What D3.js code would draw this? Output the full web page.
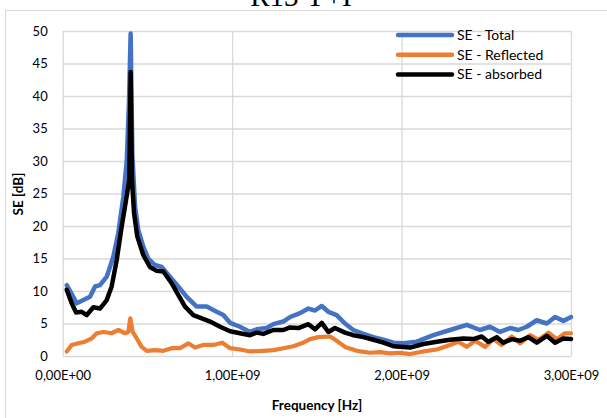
<!DOCTYPE html>
<html>
<head>
<meta charset="utf-8">
<script src="https://d3js.org/d3.v7.min.js"></script>
<style>
  body { margin: 0; background: #fff; }
  text { font-family: Lato, "Open Sans", sans-serif; fill: #000; }
</style>
</head>
<body>
<svg width="607" height="418"></svg>

<script>
// valori (frequenza in Hz, SE in dB)
var freqTotal = [0.024e9,0.083e9,0.122e9,0.161e9,0.191e9,0.220e9,0.260e9,0.299e9,0.328e9,0.358e9,0.378e9,0.391e9,0.401e9,0.411e9,0.427e9,0.446e9,0.476e9,0.505e9,0.545e9,0.584e9,0.633e9,0.682e9,0.732e9,0.791e9,0.850e9,0.909e9,0.948e9,0.988e9,1.046e9,1.106e9,1.145e9,1.204e9,1.243e9,1.302e9,1.342e9,1.401e9,1.450e9,1.489e9,1.529e9,1.568e9,1.617e9,1.666e9,1.715e9,1.775e9,1.834e9,1.893e9,1.952e9,2.011e9,2.090e9,2.188e9,2.286e9,2.385e9,2.463e9,2.522e9,2.581e9,2.641e9,2.689e9,2.739e9,2.798e9,2.857e9,2.906e9,2.955e9,3.000e9]
var seTotal = [10.9,8.1,8.6,9.1,10.7,10.9,12.2,15.3,18.9,24.5,30,39,49.6,31,23,19.4,16.8,15,14,13.7,12.2,10.7,9.1,7.6,7.6,6.8,6.3,5.1,4.5,3.7,4.1,4.3,4.9,5.3,6.0,6.6,7.3,7.0,7.7,6.8,6.3,5.0,4.0,3.4,2.9,2.5,2.05,1.95,2.2,3.2,4.0,4.8,4.0,4.5,3.7,4.3,4.0,4.5,5.5,5.0,6.0,5.4,6.0]

var freqReflected = [0.024e9,0.053e9,0.092e9,0.132e9,0.171e9,0.201e9,0.240e9,0.289e9,0.328e9,0.368e9,0.387e9,0.399e9,0.413e9,0.437e9,0.466e9,0.496e9,0.545e9,0.594e9,0.643e9,0.692e9,0.741e9,0.781e9,0.830e9,0.889e9,0.942e9,0.988e9,1.046e9,1.106e9,1.184e9,1.243e9,1.302e9,1.361e9,1.411e9,1.460e9,1.509e9,1.578e9,1.617e9,1.666e9,1.736e9,1.814e9,1.873e9,1.932e9,1.991e9,2.050e9,2.129e9,2.208e9,2.286e9,2.335e9,2.385e9,2.434e9,2.493e9,2.542e9,2.591e9,2.651e9,2.700e9,2.759e9,2.808e9,2.867e9,2.916e9,2.965e9,3.000e9]
var seReflected = [0.7,1.7,1.95,2.2,2.7,3.5,3.7,3.5,4.0,3.5,3.7,5.8,3.7,2.7,1.4,0.8,0.9,0.8,1.2,1.2,1.95,1.3,1.7,1.7,2.05,1.2,1.0,0.7,0.8,0.9,1.2,1.5,1.95,2.6,2.9,3.0,2.35,1.4,0.8,0.5,0.6,0.4,0.5,0.3,0.7,1.0,1.7,2.2,1.4,2.35,1.4,2.6,1.7,3.0,1.95,3.2,2.5,3.6,2.6,3.5,3.5]

var freqAbsorbed = [0.024e9,0.053e9,0.079e9,0.112e9,0.142e9,0.181e9,0.220e9,0.260e9,0.289e9,0.319e9,0.348e9,0.374e9,0.393e9,0.401e9,0.409e9,0.421e9,0.440e9,0.476e9,0.515e9,0.555e9,0.594e9,0.643e9,0.682e9,0.722e9,0.771e9,0.821e9,0.870e9,0.929e9,0.988e9,1.046e9,1.106e9,1.145e9,1.184e9,1.243e9,1.302e9,1.342e9,1.391e9,1.450e9,1.489e9,1.529e9,1.568e9,1.607e9,1.666e9,1.715e9,1.775e9,1.834e9,1.893e9,1.952e9,2.011e9,2.050e9,2.129e9,2.208e9,2.286e9,2.365e9,2.424e9,2.473e9,2.512e9,2.562e9,2.601e9,2.651e9,2.700e9,2.749e9,2.798e9,2.857e9,2.906e9,2.955e9,3.000e9]
var seAbsorbed = [10.2,8.1,6.7,6.8,6.3,7.5,7.3,8.6,10.7,14.8,19.9,24,27.1,43.7,27.1,22,18.4,15.5,13.7,13.1,13.0,11.2,9.4,7.6,6.3,5.8,5.3,4.5,3.8,3.5,3.2,3.6,3.4,4.0,4.0,4.4,4.3,4.9,4.1,5.1,3.7,4.3,3.6,3.2,2.9,2.5,2.05,1.5,1.4,1.3,1.85,2.2,2.5,2.7,2.6,3.0,2.2,2.9,2.05,2.6,2.35,2.9,2.05,3.1,2.05,2.7,2.6]

var xTicks = [0, 1e9, 2e9, 3e9]
var yTicks = [0, 5, 10, 15, 20, 25, 30, 35, 40, 45, 50]
var seriesNames = ['SE - Total', 'SE - Reflected', 'SE - absorbed']
var colors = ['#4472C4', '#ED7D31', '#000000']

var series = [
  {name: seriesNames[0], f: freqTotal, v: seTotal, color: colors[0], w: 4.5},
  {name: seriesNames[1], f: freqReflected, v: seReflected, color: colors[1], w: 4.2},
  {name: seriesNames[2], f: freqAbsorbed, v: seAbsorbed, color: colors[2], w: 4.5}
]

var svg = d3.select('svg')

// bordo del grafico (si vede solo in alto e a sinistra)
svg.append('rect')
  .attr('x', 5.5).attr('y', 10.5)
  .attr('width', 700).attr('height', 500)
  .attr('fill', 'none')
  .attr('stroke', '#d9d9d9')

// titolo, tagliato in alto come nell'originale
svg.append('text')
  .text('R13 Y+I')
  .attr('x', 301).attr('y', 6)
  .attr('text-anchor', 'middle')
  .style('font-family', '"Liberation Serif", "DejaVu Serif", serif')
  .style('font-size', '29px')

var x = d3.scaleLinear().domain([0, 3e9]).range([62.7, 571])
var y = d3.scaleLinear().domain([0, 50]).range([356, 31])

// formato 1,00E+09
function sci(v) {
  if (v == 0) return '0,00E+00'
  var e = Math.floor(Math.log10(v))
  var m = v / Math.pow(10, e)
  return m.toFixed(2).replace('.', ',') + 'E+' + (e < 10 ? '0' : '') + e
}

// griglia orizzontale
svg.append('g')
  .attr('transform', 'translate(' + x(0) + ',0)')
  .call(d3.axisLeft(y).tickValues(yTicks).tickSize(-(x(3e9) - x(0))).tickFormat(''))
  .call(function(g) {
    g.select('.domain').remove()
    g.selectAll('line').attr('stroke', '#d9d9d9').attr('stroke-width', 1.3)
  })

// griglia verticale
svg.append('g')
  .attr('transform', 'translate(0,' + y(0) + ')')
  .call(d3.axisBottom(x).tickValues(xTicks).tickSize(-(y(0) - y(50))).tickFormat(''))
  .call(function(g) {
    g.select('.domain').remove()
    g.selectAll('line').attr('stroke', '#d9d9d9').attr('stroke-width', 1.3)
  })

// etichette asse y
svg.append('g')
  .attr('transform', 'translate(' + x(0) + ',0)')
  .call(d3.axisLeft(y).tickValues(yTicks).tickSize(0).tickPadding(15))
  .call(function(g) {
    g.select('.domain').remove()
    g.selectAll('text').style('font-size', '13px').style('font-family', 'Lato, sans-serif')
  })

// etichette asse x
svg.append('g')
  .attr('transform', 'translate(0,' + y(0) + ')')
  .call(d3.axisBottom(x).tickValues(xTicks).tickSize(0).tickPadding(15).tickFormat(sci))
  .call(function(g) {
    g.select('.domain').remove()
    g.selectAll('text').style('font-size', '13px').style('font-family', 'Lato, sans-serif')
  })

// titoli assi
svg.append('text')
  .text('Frequency [Hz]')
  .attr('x', 317).attr('y', 410)
  .attr('text-anchor', 'middle')
  .style('font-weight', 'bold')
  .style('font-size', '13.5px')

svg.append('text')
  .text('SE [dB]')
  .attr('transform', 'translate(23,194) rotate(-90)')
  .attr('text-anchor', 'middle')
  .style('font-weight', 'bold')
  .style('font-size', '13.5px')

// linee
var line = d3.line()
  .x(function(d) { return x(d[0]) })
  .y(function(d) { return y(d[1]) })

series.forEach(function(s) {
  var pts = s.f.map(function(f, i) { return [f, s.v[i]] })
  svg.append('path')
    .datum(pts)
    .attr('d', line)
    .attr('fill', 'none')
    .attr('stroke', s.color)
    .attr('stroke-width', s.w)
    .attr('stroke-linejoin', 'round')
    .attr('stroke-linecap', 'round')
})

// legenda
var leg = svg.selectAll('.leg')
  .data(series)
  .enter()
  .append('g')
  .attr('class', 'leg')
  .attr('transform', function(d, i) { return 'translate(398,' + (35 + i * 19.7) + ')' })

leg.append('line')
  .attr('x1', 0).attr('x2', 54)
  .attr('stroke', function(d) { return d.color })
  .attr('stroke-width', 4.5)
  .attr('stroke-linecap', 'round')

leg.append('text')
  .text(function(d) { return d.name })
  .attr('x', 59)
  .attr('dy', '0.35em')
  .style('font-size', '14px')
</script>
</body>
</html>
